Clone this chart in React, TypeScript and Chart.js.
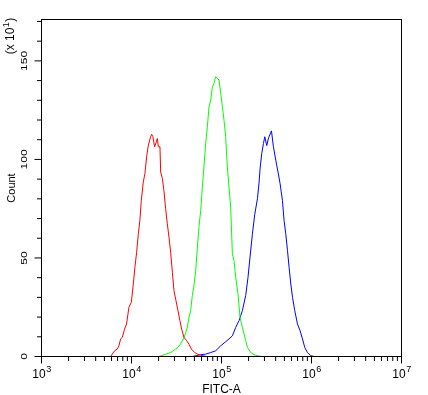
import { useEffect, useRef } from "react";
import { Chart, registerables } from "chart.js";

Chart.register(...registerables);

// FITC-A positions are given as log10 values (decades); counts are in units of 10
const redLog = [3.768, 3.812, 3.842, 3.86, 3.879, 3.898, 3.923, 3.945, 3.971, 3.998, 4.02, 4.038, 4.057, 4.076, 4.093, 4.109, 4.131, 4.149, 4.168, 4.187, 4.212, 4.224, 4.238, 4.257, 4.276, 4.287, 4.298, 4.316, 4.324, 4.343, 4.36, 4.379, 4.398, 4.416, 4.435, 4.454, 4.472, 4.494, 4.516, 4.538, 4.557, 4.583, 4.613, 4.638, 4.665, 4.702, 4.732, 4.769, 4.835];
const redCount = [0, 2.9, 3.8, 5.4, 8.9, 9.7, 13.9, 16.5, 24.9, 27.5, 36.8, 45.3, 52.9, 62.3, 69.1, 79.2, 88.5, 92.8, 101.3, 107.2, 111.5, 112.7, 111.5, 106.4, 108.9, 110.6, 106.4, 106.4, 93.6, 90.3, 84.3, 75, 67.4, 60.6, 52.9, 42.7, 33.4, 28.4, 23.3, 18.2, 13.9, 9.7, 8, 6.3, 3.8, 2, 1.2, 0.6, 0];

const greenLog = [4.305, 4.379, 4.435, 4.491, 4.516, 4.546, 4.583, 4.602, 4.621, 4.635, 4.657, 4.676, 4.694, 4.713, 4.732, 4.75, 4.769, 4.787, 4.805, 4.824, 4.843, 4.861, 4.88, 4.899, 4.917, 4.935, 4.954, 4.972, 4.991, 5.01, 5.028, 5.046, 5.065, 5.083, 5.102, 5.121, 5.139, 5.158, 5.183, 5.206, 5.232, 5.25, 5.269, 5.288, 5.325, 5.362, 5.436];
const greenCount = [0, 1.2, 2, 3.8, 4.6, 6.5, 9.5, 12, 15, 19, 23.3, 31, 36, 43.6, 55.5, 66, 74.1, 86, 96.2, 108.1, 116.5, 126.7, 130.1, 136.9, 138.6, 142, 141.2, 140.3, 133.5, 126.7, 119.9, 111.5, 96.2, 86, 75.8, 52.1, 48.7, 40.2, 31.8, 19.8, 14.8, 11.4, 8, 4.6, 2, 0.9, 0];

const blueLog = [4.676, 4.769, 4.824, 4.88, 4.935, 4.991, 5.046, 5.083, 5.121, 5.158, 5.195, 5.232, 5.269, 5.294, 5.316, 5.343, 5.369, 5.399, 5.417, 5.428, 5.447, 5.466, 5.481, 5.503, 5.523, 5.555, 5.577, 5.603, 5.628, 5.651, 5.677, 5.695, 5.714, 5.733, 5.751, 5.77, 5.789, 5.814, 5.844, 5.873, 5.9, 5.925, 5.955, 5.992, 6.029];
const blueCount = [0, 0.9, 1.2, 2, 2.9, 5.4, 7.5, 8.9, 10.5, 14.8, 18.2, 23.3, 31, 40, 50, 62, 72, 80, 88, 95, 103, 108.1, 111.5, 107, 111, 114.5, 106.4, 99.6, 93.6, 87.7, 79.2, 69.1, 62.3, 53.8, 45.3, 36.8, 30, 23.3, 16.5, 13.1, 8.9, 4.6, 2, 0.4, 0];

const xMajorTicks = [1e3, 1e4, 1e5, 1e6, 1e7];
const xTickBase = "10";
const xTickExponents = ["3", "4", "5", "6", "7"];
const xMinorTicks = [
  2e3, 3e3, 4e3, 5e3, 6e3, 7e3, 8e3, 9e3,
  2e4, 3e4, 4e4, 5e4, 6e4, 7e4, 8e4, 9e4,
  2e5, 3e5, 4e5, 5e5, 6e5, 7e5, 8e5, 9e5,
  2e6, 3e6, 4e6, 5e6, 6e6, 7e6, 8e6, 9e6,
];
const yMajorTicks = [0, 50, 100, 150];
const yTickLabels = ["0", "50", "100", "150"];
const yMinorTicks = [10, 20, 30, 40, 60, 70, 80, 90, 110, 120, 130, 140, 160, 170];
const xTitle = "FITC-A";
const yTitle = "Count";
const yMultiplierPre = "(x 10";
const yMultiplierExp = "1";
const yMultiplierPost = ")";

const FONT = "'Liberation Sans', Arial, sans-serif";

const toPoints = (logs: number[], counts: number[]) =>
  logs.map((l, i) => ({ x: Math.pow(10, l), y: counts[i] }));

const axesPlugin = {
  id: "facsAxes",
  afterDraw(chart: any) {
    const ctx = chart.ctx as CanvasRenderingContext2D;
    const { left, right, top, bottom } = chart.chartArea;
    const xs = chart.scales.x;
    const ys = chart.scales.y;
    ctx.save();
    ctx.strokeStyle = "#000";
    ctx.fillStyle = "#000";
    ctx.lineWidth = 1;
    ctx.strokeRect(left, top, right - left, bottom - top);

    ctx.beginPath();
    xMajorTicks.forEach((v) => {
      const p = xs.getPixelForValue(v);
      ctx.moveTo(p, bottom);
      ctx.lineTo(p, bottom + 7);
    });
    xMinorTicks.forEach((v) => {
      const p = xs.getPixelForValue(v);
      ctx.moveTo(p, bottom);
      ctx.lineTo(p, bottom + 4.5);
    });
    yMajorTicks.forEach((v) => {
      const p = ys.getPixelForValue(v);
      ctx.moveTo(left, p);
      ctx.lineTo(left - 7, p);
    });
    yMinorTicks.forEach((v) => {
      const p = ys.getPixelForValue(v);
      ctx.moveTo(left, p);
      ctx.lineTo(left - 4.5, p);
    });
    ctx.stroke();

    // x tick labels: 10 with superscript exponent
    ctx.textBaseline = "alphabetic";
    ctx.textAlign = "left";
    xMajorTicks.forEach((v, i) => {
      const p = xs.getPixelForValue(v);
      ctx.font = `12px ${FONT}`;
      const w1 = ctx.measureText(xTickBase).width;
      ctx.font = `9px ${FONT}`;
      const w2 = ctx.measureText(xTickExponents[i]).width;
      const start = p - (w1 + w2) / 2;
      ctx.font = `12px ${FONT}`;
      ctx.fillText(xTickBase, start, bottom + 21);
      ctx.font = `9px ${FONT}`;
      ctx.fillText(xTickExponents[i], start + w1 + 0.5, bottom + 15);
    });

    // x title
    ctx.font = `12px ${FONT}`;
    ctx.textAlign = "center";
    ctx.fillText(xTitle, (left + right) / 2, bottom + 36);

    // y tick labels (rotated)
    yMajorTicks.forEach((v, i) => {
      const p = ys.getPixelForValue(v);
      ctx.save();
      ctx.translate(27, p);
      ctx.rotate(-Math.PI / 2);
      ctx.scale(1, 0.8);
      ctx.font = `12px ${FONT}`;
      ctx.textAlign = "center";
      ctx.fillText(yTickLabels[i], 0, 0);
      ctx.restore();
    });

    // y title
    ctx.save();
    ctx.translate(14.5, (top + bottom) / 2);
    ctx.rotate(-Math.PI / 2);
    ctx.font = `11px ${FONT}`;
    ctx.textAlign = "center";
    ctx.fillText(yTitle, 0, 0);
    ctx.restore();

    // multiplier "(x 10^1)"
    ctx.save();
    ctx.translate(14, 36);
    ctx.rotate(-Math.PI / 2);
    ctx.font = `12px ${FONT}`;
    const a = ctx.measureText(yMultiplierPre).width;
    const c = ctx.measureText(yMultiplierPost).width;
    ctx.font = `9px ${FONT}`;
    const b = ctx.measureText(yMultiplierExp).width;
    const total = a + b + 1 + c;
    let xPos = -total / 2;
    ctx.textAlign = "left";
    ctx.font = `12px ${FONT}`;
    ctx.fillText(yMultiplierPre, xPos, 0);
    xPos += a + 0.5;
    ctx.font = `9px ${FONT}`;
    ctx.fillText(yMultiplierExp, xPos, -5);
    xPos += b + 0.5;
    ctx.font = `12px ${FONT}`;
    ctx.fillText(yMultiplierPost, xPos, 0);
    ctx.restore();

    ctx.restore();
  },
};

export default function App() {
  const canvasRef = useRef<HTMLCanvasElement | null>(null);

  useEffect(() => {
    if (!canvasRef.current) return;
    const chart = new Chart(canvasRef.current, {
      type: "line",
      data: {
        datasets: [
          { label: "red", data: toPoints(redLog, redCount), borderColor: "#ff0000" },
          { label: "green", data: toPoints(greenLog, greenCount), borderColor: "#00ff00" },
          { label: "blue", data: toPoints(blueLog, blueCount), borderColor: "#0000ff" },
        ],
      },
      options: {
        responsive: false,
        animation: false,
        devicePixelRatio: 1,
        layout: { padding: { left: 41.5, right: 26.5, top: 19.5, bottom: 38.5 } },
        elements: {
          line: { borderWidth: 1, tension: 0, fill: false },
          point: { radius: 0, hoverRadius: 0 },
        },
        plugins: { legend: { display: false }, tooltip: { enabled: false } },
        events: [],
        scales: {
          x: { type: "logarithmic", min: 1e3, max: 1e7, display: false },
          y: { type: "linear", min: 0, max: 171, display: false },
        },
      },
      plugins: [axesPlugin],
    } as any);
    return () => chart.destroy();
  }, []);

  return (
    <div style={{ position: "fixed", left: 0, top: 0, width: 428, height: 395, background: "#fff" }}>
      <canvas ref={canvasRef} width={428} height={395} style={{ display: "block" }} />
    </div>
  );
}
